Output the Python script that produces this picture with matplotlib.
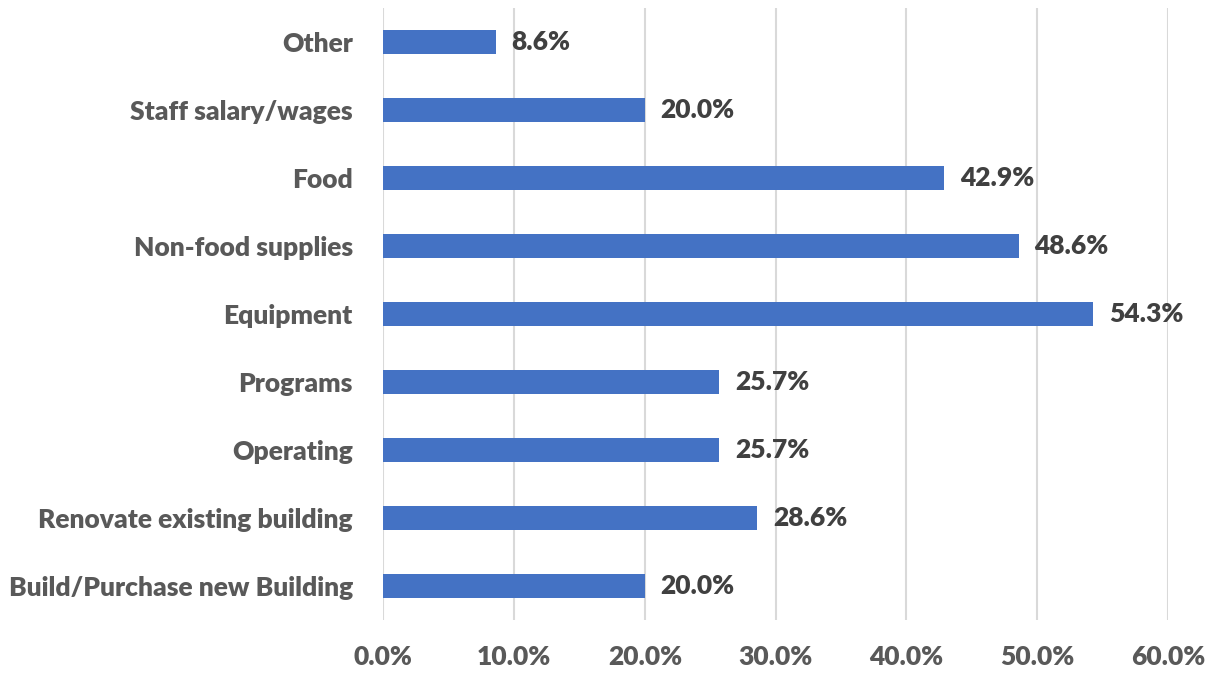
import numpy as np
import matplotlib.pyplot as plt
from matplotlib.ticker import FuncFormatter

categories = ['Build/Purchase new Building', 'Renovate existing building', 'Operating',
              'Programs', 'Equipment', 'Non-food supplies', 'Food',
              'Staff salary/wages', 'Other']
values = [20.0, 28.6, 25.7, 25.7, 54.3, 48.6, 42.9, 20.0, 8.6]
xticks = [0, 10, 20, 30, 40, 50, 60]

plt.rcParams['font.family'] = ['Lato', 'DejaVu Sans']

fig = plt.figure(figsize=(12.15, 6.75), dpi=100)
ax = fig.add_axes([0.3155, 0.0815, 0.6458, 0.9065])

y = np.arange(len(categories))
ax.barh(y, values, height=0.353, color='#4472C4', zorder=3)

for yi, v in zip(y, values):
    ax.text(v + 1.2, yi, f'{v:.1f}%', va='center', ha='left',
            fontsize=19, fontweight='heavy', color='#404040')

ax.set_xlim(0, 60)
ax.set_ylim(-0.5, len(categories) - 0.5)
ax.set_xticks(xticks)
ax.xaxis.set_major_formatter(FuncFormatter(lambda x, p: f'{x:.1f}%'))
ax.set_yticks(y)
ax.set_yticklabels(categories)
for lab in ax.get_xticklabels() + ax.get_yticklabels():
    lab.set_fontweight('heavy')
ax.grid(axis='x', color='#D9D9D9', linewidth=1.5, zorder=0)
ax.tick_params(axis='both', length=0, labelsize=19, labelcolor='#595959')
ax.tick_params(axis='x', pad=18)
ax.tick_params(axis='y', pad=22)
for s in ax.spines.values():
    s.set_visible(False)

fig.savefig('out.png', dpi=100)
